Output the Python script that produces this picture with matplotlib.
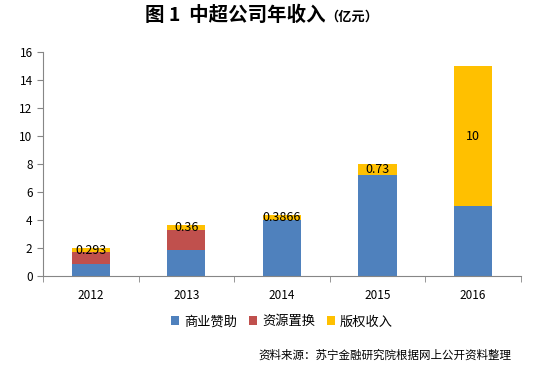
import matplotlib.pyplot as plt
import numpy as np

plt.rcParams['font.family'] = ['Noto Sans CJK SC', 'DejaVu Sans']

years = ["2012", "2013", "2014", "2015", "2016"]
sponsor = [0.88, 1.88, 4.0, 7.24, 5.0]       # 商业赞助
resource = [0.8, 1.42, 0.0, 0.0, 0.0]        # 资源置换
rights = [0.293, 0.36, 0.3866, 0.73, 10.0]   # 版权收入
rights_labels = ["0.293", "0.36", "0.3866", "0.73", "10"]

c_blue = "#4F81BD"
c_red = "#C0504D"
c_yellow = "#FFC000"
axis_gray = "#868686"


def main():
    fig = plt.figure(figsize=(5.42, 3.65), dpi=100)
    ax = fig.add_axes([0.0793, 0.2438, 0.8817, 0.6137])

    x = np.arange(len(years))
    w = 0.4
    s = np.array(sponsor)
    r = np.array(resource)
    k = np.array(rights)
    ax.bar(x, s, w, color=c_blue, label="商业赞助")
    ax.bar(x, r, w, bottom=s, color=c_red, label="资源置换")
    bars = ax.bar(x, k, w, bottom=s + r, color=c_yellow, label="版权收入")
    ax.bar_label(bars, labels=rights_labels, label_type="center", fontsize=9, color="black")

    ax.set_xlim(-0.5, len(years) - 0.5)
    ax.set_ylim(0, 16)
    ax.set_yticks(np.arange(0, 17, 2))
    ax.set_xticks(x)
    ax.set_xticklabels(years)
    ax.set_xticks(np.arange(-0.5, len(years)), minor=True)
    ax.tick_params(axis="x", which="major", length=0, labelsize=8.5, pad=9)
    ax.tick_params(axis="x", which="minor", length=4, color=axis_gray)
    ax.tick_params(axis="y", length=4, color=axis_gray, labelsize=8.5)

    for side in ["top", "right"]:
        ax.spines[side].set_visible(False)
    for side in ["left", "bottom"]:
        ax.spines[side].set_color(axis_gray)

    fig.text(0.6, 0.957, "图 1  中超公司年收入", ha="right", va="center",
             fontsize=14, fontweight="bold")
    fig.text(0.6, 0.954, "（亿元）", ha="left", va="center", fontsize=9.5, fontweight="bold")

    ax.legend(loc="center", bbox_to_anchor=(0.5, -0.205), ncol=3,
              frameon=False, fontsize=9.5, handlelength=0.65, handleheight=0.65,
              handletextpad=0.35, columnspacing=0.9)

    fig.text(0.943, 0.027, "资料来源：苏宁金融研究院根据网上公开资料整理", ha="right", va="center",
             fontsize=8.3, style="italic")

    fig.savefig("out.png", dpi=100)


if __name__ == "__main__":
    main()
